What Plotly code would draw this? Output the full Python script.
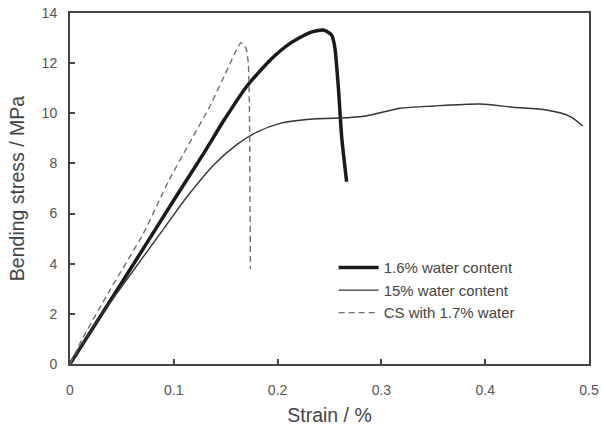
import plotly.graph_objects as go

# 1.6% water content (thick)
strain_16 = [0, 0.05, 0.101, 0.128, 0.148, 0.17, 0.193, 0.212, 0.231, 0.244, 0.252, 0.255, 0.2585, 0.2617, 0.2665]
stress_16 = [0, 3.25, 6.6, 8.35, 9.7, 11.06, 12.13, 12.79, 13.22, 13.32, 13.12, 12.66, 11.06, 9.07, 7.27]

# 15% water content (thin)
strain_15 = [0, 0.03, 0.05, 0.093, 0.1124, 0.138, 0.1606, 0.18, 0.2023, 0.231, 0.27, 0.286, 0.318, 0.35, 0.395, 0.427, 0.459, 0.482, 0.494]
stress_15 = [0, 1.95, 3.1, 5.55, 6.65, 7.92, 8.75, 9.25, 9.6, 9.76, 9.83, 9.9, 10.2, 10.29, 10.37, 10.24, 10.13, 9.87, 9.49]

# CS with 1.7% water (dashed)
strain_cs = [0, 0.0113, 0.0385, 0.0706, 0.095, 0.1156, 0.135, 0.151, 0.1606, 0.1647, 0.1696, 0.1718, 0.1728, 0.1734, 0.1738]
stress_cs = [0, 0.96, 2.95, 5.2, 7.3, 8.85, 10.3, 11.7, 12.55, 12.82, 12.59, 11.99, 10.4, 6.67, 3.8]

names = ["1.6% water content", "15% water content", "CS with 1.7% water"]

fig = go.Figure()
fig.add_trace(go.Scatter(x=strain_16, y=stress_16, mode="lines", name=names[0],
                         line=dict(color="#1a1a1a", width=3.5, shape="spline", smoothing=0.6)))
fig.add_trace(go.Scatter(x=strain_15, y=stress_15, mode="lines", name=names[1],
                         line=dict(color="#333333", width=1.4, shape="spline", smoothing=0.7)))
fig.add_trace(go.Scatter(x=strain_cs, y=stress_cs, mode="lines", name=names[2],
                         line=dict(color="#6e6e6e", width=1.4, dash="6px,4px", shape="spline", smoothing=0.5)))

axis_common = dict(
    showline=True, linecolor="#444444", linewidth=2, mirror=True,
    ticks="inside", ticklen=5, tickwidth=1.5, tickcolor="#444444",
    showgrid=False, zeroline=False, automargin=False,
    tickfont=dict(size=14, color="#555555", family="Liberation Sans, Arial, sans-serif"),
)

fig.update_xaxes(range=[0, 0.5], dtick=0.1, tick0=0,
                 title=dict(text="Strain / %", font=dict(size=19.5, color="#444444"), standoff=12),
                 ticklabelstandoff=12, **axis_common)
fig.update_yaxes(range=[0, 14], dtick=2, tick0=0,
                 title=dict(text="Bending stress / MPa", font=dict(size=19.5, color="#444444"), standoff=12),
                 ticklabelstandoff=8, **axis_common)

fig.update_layout(
    width=602, height=433,
    margin=dict(l=70, r=13, t=13, b=69),
    paper_bgcolor="white", plot_bgcolor="white",
    font=dict(family="Liberation Sans, Arial, sans-serif", color="#444444"),
    showlegend=True,
    legend=dict(x=0.508, y=0.321, xanchor="left", yanchor="top",
                bgcolor="rgba(0,0,0,0)", font=dict(size=15, color="#444444"),
                tracegroupgap=0, itemwidth=40),
)

fig.write_html("out.html")
